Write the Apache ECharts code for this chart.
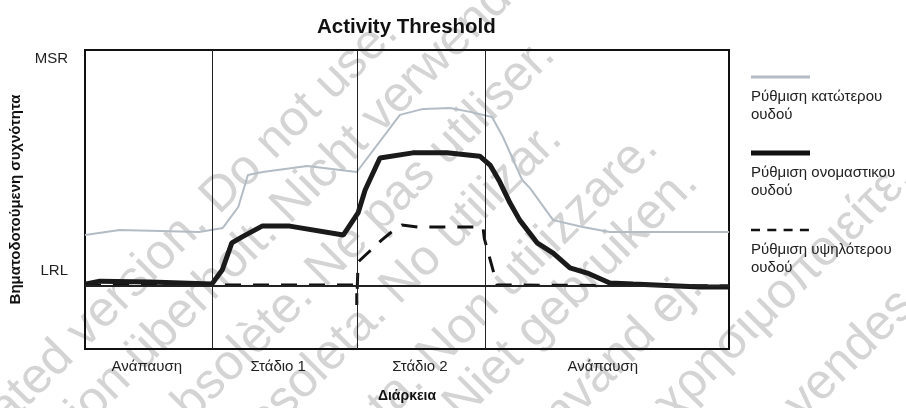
<!DOCTYPE html>
<html>
<head>
<meta charset="utf-8">
<script src="https://cdn.jsdelivr.net/npm/echarts@6/dist/echarts.min.js"></script>
<style>
  html, body { margin: 0; padding: 0; background: #fff; }
  #main { width: 906px; height: 408px; }
</style>
</head>
<body>
<div id="main"></div>
<script>
// time runs 0..100 across the frame, rate 0..100 from bottom to top (MSR ~ 97)
const phaseNames = ['Ανάπαυση', 'Στάδιο 1', 'Στάδιο 2', 'Ανάπαυση']
const phaseCenters = [9.6, 30.0, 52.0, 80.4]
const phaseBounds = [19.7, 42.2, 62.1]
const yTickValues = [97, 26]
const yTickLabels = ['MSR', 'LRL']
const lrlValue = 21

const lowerThreshold = [
  [0, 38.1], [5.4, 39.8], [11.6, 39.5], [17.7, 39.1], [21.4, 40.5], [23.8, 47.5],
  [25.3, 58.2], [27.6, 59.2], [34.5, 61.2], [42.2, 59.2], [48.9, 78.3], [52.5, 80.3],
  [56.7, 80.6], [59.8, 79.3], [63.2, 77.6], [64.9, 70.9], [66.5, 63.2], [67.9, 56.5],
  [69.1, 53.8], [72.7, 43.1], [77.3, 40.8], [81.5, 39.1], [100, 39.1]
]
const nominalThreshold = [
  [0, 21.7], [2.3, 22.7], [10.1, 22.4], [19.7, 21.7], [21.3, 26.4], [22.8, 35.5],
  [24.4, 37.5], [27.5, 41.1], [31.8, 41.1], [40.1, 38.1], [42.4, 45.5], [43.5, 53.2],
  [45.8, 63.9], [50.9, 65.6], [56.2, 65.6], [61.3, 64.5], [62.9, 61.5], [64.4, 55.9],
  [66.0, 48.8], [67.5, 43.1], [70.2, 35.5], [72.7, 32.1], [75.3, 27.1], [78.0, 25.4],
  [81.5, 22.1], [85.1, 21.7], [95.5, 20.7], [100, 20.7]
]
const upperThreshold = [
  [0, 21.4], [42.2, 21.4], [42.2, 14.7], [42.4, 29.1], [43.9, 32.1], [46.1, 36.5],
  [47.4, 38.8], [49.2, 41.5], [51.7, 40.8], [61.8, 40.8], [62.0, 37.0], [64.0, 21.4],
  [100, 21.1]
]

const legendItems = ['Ρύθμιση κατώτερου\nουδού', 'Ρύθμιση ονομαστικου\nουδού', 'Ρύθμιση υψηλότερου\nουδού']

const watermarkLines = [
  'Outdated version. Do not use.',
  'Version überholt. Nicht verwenden.',
  'Version obsolète. Ne pas utiliser.',
  'Versión obsoleta. No utilizar.',
  'Versione obsoleta. Non utilizzare.',
  'Verouderde versie. Niet gebruiken.',
  'Föråldrad version. Använd ej.',
  'Παλιά έκδοση. Μην την χρησιμοποιείτε.',
  'Forældet version. Må ikke anvendes.'
]
// where each watermark line ends (right end of its centre line)
const watermarkEnds = [
  [390, 25], [553, -58], [547, 47], [554, 131], [650, 140],
  [690, 175], [695, 280], [905, 170], [917, 288]
]

const font = "'Liberation Sans', Arial, sans-serif"
const chart = echarts.init(document.getElementById('main'))

const wm = watermarkLines.map((t, i) => ({
  type: 'text', z: -10, silent: true,
  x: watermarkEnds[i][0], y: watermarkEnds[i][1],
  rotation: Math.PI / 4,
  style: { text: t, fill: '#d4d4d4', font: '50px ' + font, align: 'right', verticalAlign: 'middle' }
}))

const legendGfx = []
const ly = [77, 153, 230]
legendGfx.push({ type: 'line', shape: { x1: 751, y1: ly[0], x2: 810, y2: ly[0] }, style: { stroke: '#b3bcc5', lineWidth: 3 } })
legendGfx.push({ type: 'line', shape: { x1: 751, y1: ly[1], x2: 810, y2: ly[1] }, style: { stroke: '#111', lineWidth: 5 } })
legendGfx.push({ type: 'line', shape: { x1: 751, y1: ly[2], x2: 810, y2: ly[2] }, style: { stroke: '#111', lineWidth: 2.5, lineDash: [9, 7.3] } })
legendItems.forEach((t, i) => {
  legendGfx.push({
    type: 'text', x: 751, y: ly[i] + 11,
    style: { text: t, fill: '#222', font: '15px ' + font, lineHeight: 18, verticalAlign: 'top' }
  })
})

const option = {
  backgroundColor: '#fff',
  animation: false,
  title: {
    text: 'Activity Threshold', left: 312, top: 12,
    textStyle: { fontFamily: font, fontSize: 20.5, fontWeight: 'bold', color: '#111' }
  },
  grid: { left: 85, right: 177, top: 50, bottom: 59, show: true, borderColor: '#111', borderWidth: 2, backgroundColor: 'transparent' },
  xAxis: {
    type: 'value', min: 0, max: 100,
    axisLine: { show: false }, axisTick: { show: false }, splitLine: { show: false },
    axisLabel: {
      customValues: phaseCenters, margin: 10,
      formatter: v => phaseNames[phaseCenters.indexOf(v)] || '',
      fontFamily: font, fontSize: 15, color: '#222'
    },
    name: 'Διάρκεια', nameLocation: 'middle', nameGap: 40,
    nameTextStyle: { fontFamily: font, fontSize: 14, fontWeight: 'bold', color: '#111' }
  },
  yAxis: {
    type: 'value', min: 0, max: 100,
    axisLine: { show: false }, axisTick: { show: false }, splitLine: { show: false },
    axisLabel: {
      customValues: yTickValues, margin: 17,
      formatter: v => yTickLabels[yTickValues.indexOf(v)] || '',
      fontFamily: font, fontSize: 15, color: '#222'
    },
    name: 'Βηματοδοτούμενη συχνότητα', nameLocation: 'middle', nameGap: 58,
    nameTextStyle: { fontFamily: font, fontSize: 15, fontWeight: 'bold', color: '#111' }
  },
  series: [
    {
      type: 'line', data: lowerThreshold, symbol: 'none', z: 2,
      lineStyle: { color: '#b3bcc5', width: 2 },
      markLine: {
        silent: true, symbol: 'none', label: { show: false },
        data: phaseBounds.map(v => ({ xAxis: v, lineStyle: { color: '#222', width: 1, type: 'solid' } }))
          .concat([{ yAxis: lrlValue, lineStyle: { color: '#222', width: 2, type: 'solid' } }])
      }
    },
    {
      type: 'line', data: upperThreshold, symbol: 'none', z: 3,
      lineStyle: { color: '#111', width: 3, type: [16, 12] }
    },
    {
      type: 'line', data: nominalThreshold, symbol: 'none', z: 4,
      lineStyle: { color: '#1a1a1a', width: 5 }
    }
  ],
  graphic: wm.concat(legendGfx)
}
chart.setOption(option)
</script>
</body>
</html>
